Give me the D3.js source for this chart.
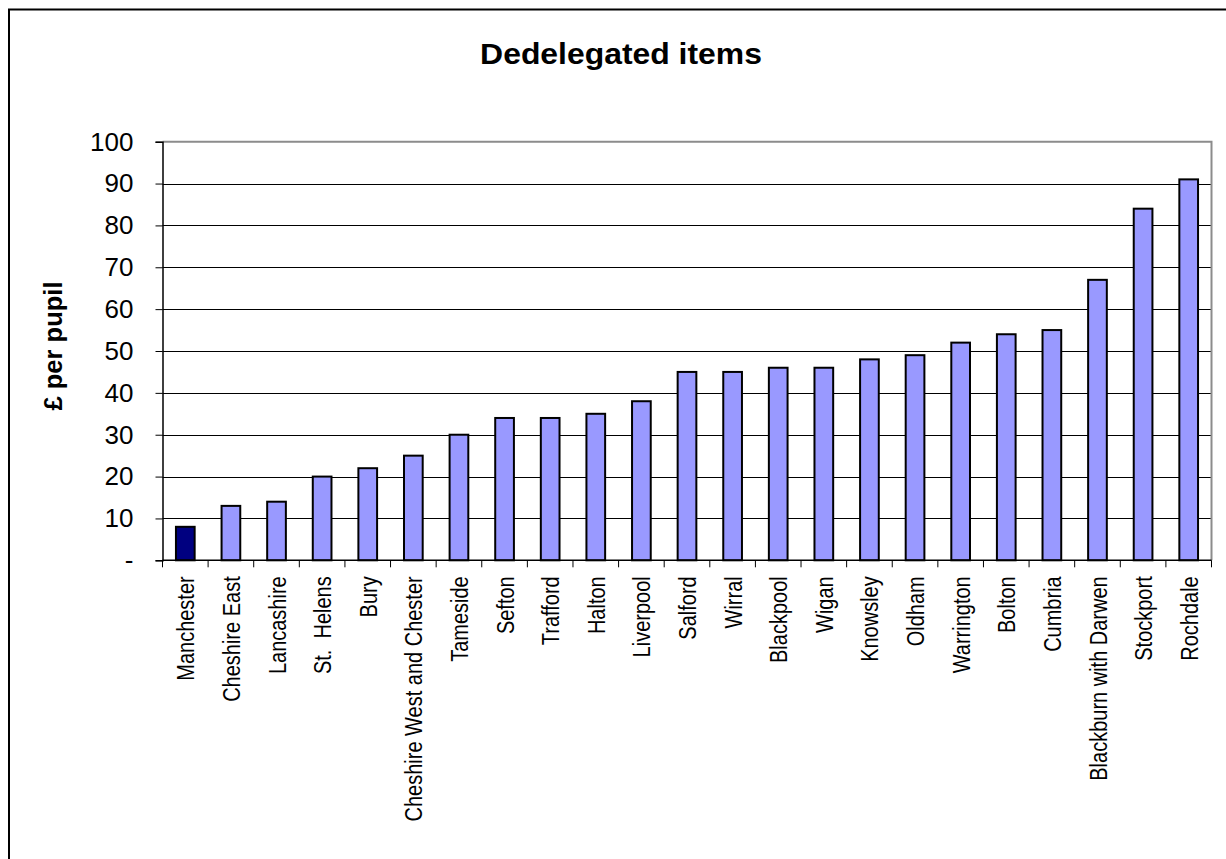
<!DOCTYPE html>
<html>
<head>
<meta charset="utf-8">
<script src="https://cdn.jsdelivr.net/npm/d3@7"></script>
<style>
  html, body { margin: 0; padding: 0; background: #fff; }
  svg text { font-family: "Liberation Sans", Arial, sans-serif; white-space: pre; }
</style>
</head>
<body>
<svg id="chart" width="1226" height="859"></svg>
<script>
// Local authorities, sorted by dedelegated spend
const categories = [
  "Manchester", "Cheshire East", "Lancashire", "St.  Helens", "Bury",
  "Cheshire West and Chester", "Tameside", "Sefton", "Trafford", "Halton",
  "Liverpool", "Salford", "Wirral", "Blackpool", "Wigan", "Knowsley",
  "Oldham", "Warrington", "Bolton", "Cumbria", "Blackburn with Darwen",
  "Stockport", "Rochdale"
];
// £ per pupil
const values = [8, 13, 14, 20, 22, 25, 30, 34, 34, 35, 38, 45, 45, 46, 46, 48, 49, 52, 54, 55, 67, 84, 91];
const highlighted = ["Manchester"];
const yTicks = [0, 10, 20, 30, 40, 50, 60, 70, 80, 90, 100];
const yTickLabels = ["-", "10", "20", "30", "40", "50", "60", "70", "80", "90", "100"];

const svg = d3.select("#chart");
const plot = { left: 162.5, right: 1211.5, top: 141.7, bottom: 560.3 };

// outer chart frame (runs off the right and bottom of the page)
svg.append("rect")
  .attr("x", 9).attr("y", 9.5)
  .attr("width", 1240).attr("height", 880)
  .attr("fill", "#fff").attr("stroke", "#000").attr("stroke-width", 2);

const x = d3.scaleBand().domain(categories).range([plot.left, plot.right]).paddingInner(0).paddingOuter(0);
const y = d3.scaleLinear().domain([0, 100]).range([plot.bottom, plot.top]);

// gridlines
svg.append("g").selectAll("line")
  .data(yTicks.filter(t => t > 0 && t < 100))
  .join("line")
  .attr("x1", plot.left).attr("x2", plot.right)
  .attr("y1", d => Math.round(y(d)) + 0.5).attr("y2", d => Math.round(y(d)) + 0.5)
  .attr("stroke", "#000").attr("stroke-width", 1);

// plot frame top and right in grey
svg.append("path")
  .attr("d", `M${plot.left},${plot.top}H${plot.right}V${plot.bottom}`)
  .attr("fill", "none").attr("stroke", "#8c8c8c").attr("stroke-width", 2);

// bars
const barW = x.bandwidth() * 0.41;
svg.append("g").selectAll("rect")
  .data(categories.map((c, i) => ({ c, v: values[i] })))
  .join("rect")
  .attr("x", d => x(d.c) + (x.bandwidth() - barW) / 2)
  .attr("y", d => y(d.v))
  .attr("width", barW)
  .attr("height", d => y(0) - y(d.v))
  .attr("fill", d => highlighted.includes(d.c) ? "#000080" : "#9999ff")
  .attr("stroke", "#000").attr("stroke-width", 2);

// y axis
const yAxis = svg.append("g")
  .attr("transform", `translate(${plot.left},0)`)
  .call(d3.axisLeft(y).tickValues(yTicks).tickFormat((d, i) => yTickLabels[i]).tickSize(7).tickPadding(22));
yAxis.select(".domain").attr("stroke", "#000").attr("stroke-width", 1.5);
yAxis.selectAll(".tick line").attr("stroke", "#000").attr("stroke-width", 1);
yAxis.selectAll(".tick text")
  .attr("font-size", 26).attr("fill", "#000")
  .attr("font-family", "Liberation Sans, Arial, sans-serif");

// x axis with ticks at band edges
const xAxisG = svg.append("g");
xAxisG.append("line")
  .attr("x1", plot.left).attr("x2", plot.right)
  .attr("y1", plot.bottom).attr("y2", plot.bottom)
  .attr("stroke", "#000").attr("stroke-width", 1.5);
const edges = categories.map(c => x(c)).concat([plot.right]);
xAxisG.selectAll("line.edge")
  .data(edges).join("line").attr("class", "edge")
  .attr("x1", d => d).attr("x2", d => d)
  .attr("y1", plot.bottom).attr("y2", plot.bottom + 7)
  .attr("stroke", "#000").attr("stroke-width", 1);

// category labels, rotated (glyphs slightly widened across the baseline)
xAxisG.selectAll("text")
  .data(categories).join("text")
  .attr("transform", d => `translate(${x(d) + x.bandwidth() / 2 + 0.5},${plot.bottom + 16}) rotate(-90) scale(1,1.22)`)
  .attr("text-anchor", "end")
  .attr("dy", "0.35em")
  .attr("font-size", 20)
  .attr("fill", "#000")
  .text(d => d);

// title
svg.append("text")
  .attr("transform", "translate(621,64) scale(1.1,1)")
  .attr("text-anchor", "middle")
  .attr("font-size", 29).attr("font-weight", "bold")
  .text("Dedelegated items");

// y axis title
svg.append("text")
  .attr("transform", `translate(53,346) rotate(-90)`)
  .attr("text-anchor", "middle")
  .attr("dy", "0.35em")
  .attr("font-size", 25.5).attr("font-weight", "bold")
  .text("£ per pupil");
</script>
</body>
</html>
